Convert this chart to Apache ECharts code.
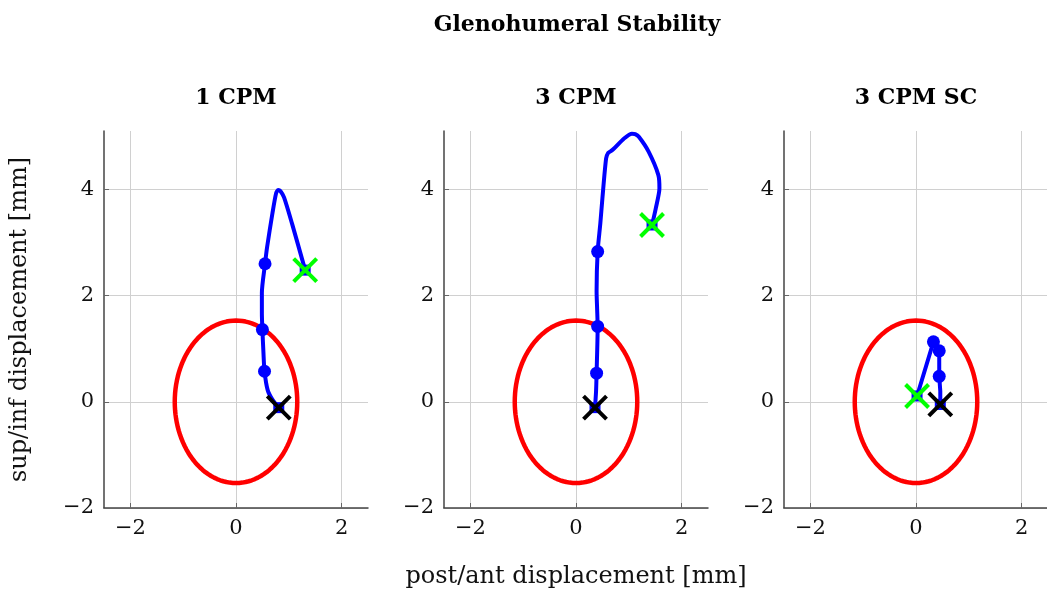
<!DOCTYPE html>
<html><head><meta charset="utf-8">
<script src="https://cdn.jsdelivr.net/npm/echarts@6/dist/echarts.min.js"></script>
<style>html,body{margin:0;padding:0;background:#fff}#c{width:1047px;height:592px}</style>
</head><body><div id="c"></div>
<script>
// ---- data ----
const mainTitle = 'Glenohumeral Stability';
const panelTitles = ['1 CPM', '3 CPM', '3 CPM SC'];
const xLabel = 'post/ant displacement [mm]';
const yLabel = 'sup/inf displacement [mm]';
const xTicks = [-2, 0, 2];
const yTicks = [-2, 0, 2, 4];
const xRange = [-2.5, 2.5];
const yRange = [-2, 5.1];
// stability ellipse semi-axes (mm)
const ellipseRx = 1.16;
const ellipseRy = 1.53;

const path1 = [[0.81,-0.11],[0.69,0.04],[0.60,0.22],[0.54,0.575],[0.52,0.92],[0.50,1.36],[0.49,1.67],[0.49,2.05],[0.55,2.60],[0.59,2.92],[0.69,3.55],[0.76,3.93],[0.80,3.99],[0.84,3.97],[0.91,3.85],[1.06,3.36],[1.31,2.48]];
const path2 = [[0.36,-0.11],[0.38,0.20],[0.39,0.54],[0.41,1.42],[0.40,1.75],[0.39,2.08],[0.41,2.83],[0.46,3.35],[0.50,3.83],[0.57,4.58],[0.61,4.69],[0.66,4.72],[0.72,4.77],[0.91,4.96],[1.06,5.05],[1.12,5.04],[1.19,4.99],[1.375,4.71],[1.56,4.27],[1.58,4.02],[1.51,3.64],[1.44,3.33]];
const path3 = [[0.46,-0.05],[0.46,0.20],[0.44,0.48],[0.44,0.96],[0.33,1.13],[0.02,0.11]];
const dots1 = [[0.54,0.575],[0.50,1.36],[0.55,2.60]];
const dots2 = [[0.39,0.54],[0.41,1.42],[0.41,2.83]];
const dots3 = [[0.44,0.48],[0.44,0.96],[0.33,1.13]];
const startPts = [[0.81,-0.11],[0.36,-0.11],[0.46,-0.05]];
const endPts = [[1.31,2.48],[1.44,3.33],[0.02,0.11]];

// ---- build ----
const paths = [path1, path2, path3];
const dots = [dots1, dots2, dots3];
const FONT = '"DejaVu Serif", serif';
const ellipse = [];
for (let i = 0; i <= 120; i++) {
  const t = i / 120 * Math.PI * 2;
  ellipse.push([ellipseRx * Math.cos(t), ellipseRy * Math.sin(t)]);
}
const lefts = [104, 444, 784];
const grids = [], xAxes = [], yAxes = [], series = [], graphics = [];
const minus = v => String(v).replace('-', '\u2212');
const X = 'path://M0 0L10 10M10 0L0 10';

lefts.forEach((l, i) => {
  grids.push({left: l, top: 131, width: 264, height: 377, containLabel: false, outerBoundsMode: 'none'});
  xAxes.push({
    type: 'value', gridIndex: i, min: xRange[0], max: xRange[1],
    axisLine: {show: true, onZero: false, lineStyle: {color: '#444', width: 1.5}},
    axisTick: {show: true, inside: true, length: 5, customValues: xTicks, lineStyle: {color: '#666'}},
    axisLabel: {customValues: xTicks, formatter: minus, color: '#111', fontFamily: FONT, fontSize: 21, margin: 10},
    splitLine: {show: true, customValues: xTicks, lineStyle: {color: '#d0d0d0', width: 1}},
    name: i === 1 ? xLabel : '', nameLocation: 'middle', nameGap: 57,
    nameTextStyle: {color: '#111', fontFamily: FONT, fontSize: 24}
  });
  yAxes.push({
    type: 'value', gridIndex: i, min: yRange[0], max: yRange[1],
    axisLine: {show: true, onZero: false, lineStyle: {color: '#444', width: 1.5}},
    axisTick: {show: true, inside: true, length: 5, customValues: yTicks, lineStyle: {color: '#666'}},
    axisLabel: {customValues: yTicks, formatter: minus, color: '#111', fontFamily: FONT, fontSize: 21, margin: 10},
    splitLine: {show: true, customValues: yTicks, lineStyle: {color: '#d0d0d0', width: 1}},
    name: i === 0 ? yLabel : '', nameLocation: 'middle', nameGap: 72, nameRotate: 90,
    nameTextStyle: {color: '#111', fontFamily: FONT, fontSize: 24}
  });
  series.push({
    type: 'line', xAxisIndex: i, yAxisIndex: i, data: ellipse, showSymbol: false,
    lineStyle: {color: '#ff0000', width: 4.5}, z: 2, silent: true
  });
  series.push({
    type: 'line', xAxisIndex: i, yAxisIndex: i, data: paths[i], showSymbol: false,
    smooth: i === 2 ? false : 0.25,
    lineStyle: {color: '#0000ff', width: 4}, z: 3, silent: true
  });
  series.push({
    type: 'scatter', xAxisIndex: i, yAxisIndex: i, data: dots[i], symbol: 'circle', symbolSize: 13,
    itemStyle: {color: '#0000ff', opacity: 1}, z: 4, silent: true
  });
  series.push({
    type: 'scatter', xAxisIndex: i, yAxisIndex: i, data: [startPts[i], endPts[i]], symbol: 'rect', symbolSize: 11,
    itemStyle: {color: '#0000ff', opacity: 1}, z: 4, silent: true
  });
  series.push({
    type: 'scatter', xAxisIndex: i, yAxisIndex: i, data: [startPts[i]], symbol: X, symbolSize: 23,
    itemStyle: {color: 'none', borderColor: '#000000', borderWidth: 4, opacity: 1}, z: 5, silent: true
  });
  series.push({
    type: 'scatter', xAxisIndex: i, yAxisIndex: i, data: [endPts[i]], symbol: X, symbolSize: 23,
    itemStyle: {color: 'none', borderColor: '#00ff00', borderWidth: 4, opacity: 1}, z: 5, silent: true
  });
  graphics.push({
    type: 'text', x: l + 132, y: 98,
    style: {text: panelTitles[i], fill: '#000', font: 'bold 22px ' + FONT, align: 'center', verticalAlign: 'middle'}
  });
});
graphics.push({
  type: 'text', x: 577, y: 25,
  style: {text: mainTitle, fill: '#000', font: 'bold 22px ' + FONT, align: 'center', verticalAlign: 'middle'}
});

const chart = echarts.init(document.getElementById('c'), null, {renderer: 'canvas'});
chart.setOption({
  animation: false, backgroundColor: '#fff',
  grid: grids, xAxis: xAxes, yAxis: yAxes, series: series, graphic: graphics
});
</script></body></html>
